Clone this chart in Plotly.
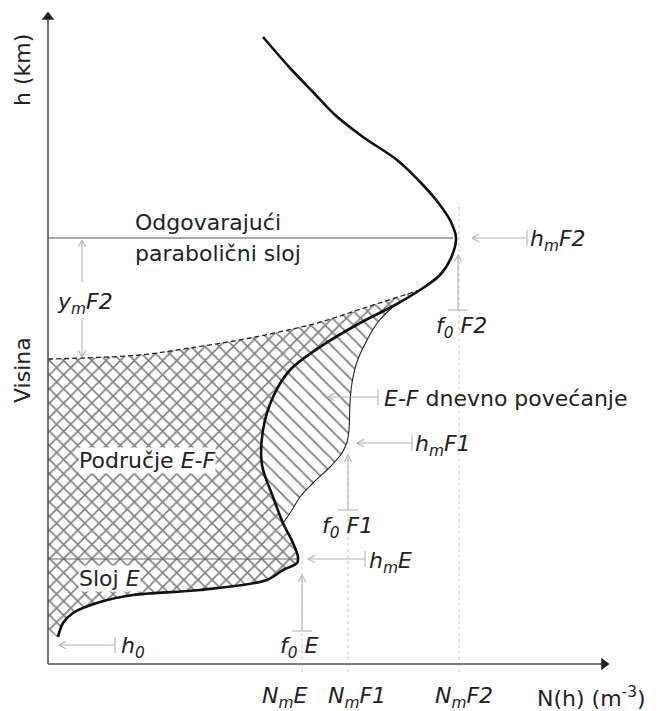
import math
import plotly.graph_objects as go

# ---------------- data (diagram units: N measured from the h-axis, h from the N-axis) -------------
# main electron density profile N(h)
profile_N = [215, 242, 265, 286, 315, 349, 375, 392, 403, 408, 403, 392, 372, 347, 312, 272, 242,
             225, 215, 214, 225, 235, 245, 250, 249, 235, 219, 152, 85, 52, 25, 15, 10]
profile_h = [627, 596, 572, 550, 527, 504, 479, 459, 442, 426, 406, 389, 374, 359, 341, 317, 294,
             267, 234, 199, 167, 141, 121, 107, 101, 94, 84, 74, 69, 62, 51, 41, 27]
MEET = 12   # index where the dashed parabolic edge meets the profile
F1_TOP, F1_BOT = 13, 21

# dashed "equivalent parabolic layer" lower edge
parab_N = [0, 35, 92, 142, 202, 269, 319, 372]
parab_h = [305, 306, 309, 316, 326, 341, 357, 374]

# daytime E-F enhancement boundary (F1 ledge)
f1_N = [347, 330, 318, 309, 304, 302, 301, 299, 294, 282, 265, 252, 244, 235]
f1_h = [359, 342, 322, 302, 281, 261, 234, 222, 211, 197, 181, 167, 154, 141]

# characteristic values
NmE, NmF1, NmF2 = 254, 300, 411
hmE, hmF1, hmF2 = 105, 221, 426
h0 = 19
N_axis_end, h_axis_end = 561, 652

bottom_labels = ["<i>N<sub>m</sub>E</i>", "<i>N<sub>m</sub>F1</i>", "<i>N<sub>m</sub>F2</i>",
                 "N(h) (m<sup>-3</sup>)"]
bottom_label_N = [236, 309, 416, 543]

FONT = "DejaVu Sans"
FS = 22
TXT = "#222222"
GREY = "#b4b4b4"

fig = go.Figure()

# ---------------- hatched regions ----------------
cross_N = parab_N + profile_N[MEET + 1:] + [0]
cross_h = parab_h + profile_h[MEET + 1:] + [35]
fig.add_trace(go.Scatter(
    x=cross_N, y=cross_h, mode="lines", fill="toself", line=dict(width=0, shape="spline", smoothing=0.5),
    fillcolor="rgba(0,0,0,0)",
    fillpattern=dict(shape="x", size=10, solidity=0.3, fgcolor="#000000", bgcolor="white"),
    hoverinfo="skip"))

hat_N = f1_N + profile_N[F1_BOT:F1_TOP - 1:-1]
hat_h = f1_h + profile_h[F1_BOT:F1_TOP - 1:-1]
fig.add_trace(go.Scatter(
    x=hat_N, y=hat_h, mode="lines", fill="toself", line=dict(width=0, shape="spline", smoothing=0.5),
    fillcolor="rgba(0,0,0,0)",
    fillpattern=dict(shape="\\", size=10, solidity=0.18, fgcolor="#000000", bgcolor="white"),
    hoverinfo="skip"))

# ---------------- reference lines ----------------
fig.add_trace(go.Scatter(x=[0, profile_N[9] - 3], y=[hmF2, hmF2], mode="lines",
                         line=dict(color="#555555", width=1.2), hoverinfo="skip"))
fig.add_trace(go.Scatter(x=[0, profile_N[23]], y=[hmE, hmE], mode="lines",
                         line=dict(color="#666666", width=1.2), hoverinfo="skip"))
for nv, top in [(NmE, hmE + 8), (NmF1, hmF1 + 4), (NmF2, hmF2 + 35)]:
    fig.add_trace(go.Scatter(x=[nv, nv], y=[-8, top], mode="lines",
                             line=dict(color="#c8c8c8", width=1, dash="dot"), hoverinfo="skip"))

# boundary lines
fig.add_trace(go.Scatter(x=parab_N, y=parab_h, mode="lines",
                         line=dict(color="#222222", width=1.3, dash="5px,3px", shape="spline"),
                         hoverinfo="skip"))
fig.add_trace(go.Scatter(x=f1_N, y=f1_h, mode="lines",
                         line=dict(color="#222222", width=1.1, shape="spline"), hoverinfo="skip"))
fig.add_trace(go.Scatter(x=profile_N, y=profile_h, mode="lines",
                         line=dict(color="#111111", width=2.6, shape="spline", smoothing=0.9),
                         hoverinfo="skip"))


# ---------------- grey marker arrows ----------------
def arrow(tip, tail, bar=0, arm=8, ang=28):
    xs, ys = [tail[0], tip[0], None], [tail[1], tip[1], None]
    dx, dy = tip[0] - tail[0], tip[1] - tail[1]
    L = math.hypot(dx, dy)
    ux, uy = dx / L, dy / L
    for s in (1, -1):
        a = math.radians(ang) * s
        rx = ux * math.cos(a) - uy * math.sin(a)
        ry = ux * math.sin(a) + uy * math.cos(a)
        xs += [tip[0], tip[0] - arm * rx, None]
        ys += [tip[1], tip[1] - arm * ry, None]
    if bar:
        px, py = -uy, ux
        xs += [tail[0] - px * bar / 2, tail[0] + px * bar / 2, None]
        ys += [tail[1] - py * bar / 2, tail[1] + py * bar / 2, None]
    return xs, ys


arrows = [
    ((11, h0), (67, h0), 16),            # h0
    ((260, hmE), (317, hmE), 16),        # hmE
    ((NmE, 89), (NmE, 33), 20),          # f0E
    ((309, hmF1), (364, hmF1), 16),      # hmF1
    ((NmF1, 209), (NmF1, 154), 20),      # f0F1
    ((280, 267), (330, 267), 16),        # E-F
    ((424, hmF2), (479, hmF2), 16),      # hmF2
    ((NmF2 - 1, 409), (NmF2 - 1, 354), 20),  # f0F2
    ((34, hmF2 - 2), (34, 382), 0),      # ymF2 up
    ((34, 307), (34, 346), 0),           # ymF2 down
]
ax_, ay_ = [], []
for tip, tail, bar in arrows:
    xs, ys = arrow(tip, tail, bar)
    ax_ += xs
    ay_ += ys
fig.add_trace(go.Scatter(x=ax_, y=ay_, mode="lines", line=dict(color=GREY, width=1.1),
                         hoverinfo="skip"))

# ---------------- axes with arrow heads ----------------
fig.add_trace(go.Scatter(x=[0, 0, None, 0, N_axis_end - 6], y=[h_axis_end - 6, 0, None, 0, 0],
                         mode="lines", line=dict(color="#555555", width=1.6), hoverinfo="skip"))
fig.add_trace(go.Scatter(x=[0], y=[h_axis_end - 5], mode="markers",
                         marker=dict(symbol="triangle-up", size=11, color="#222222"), hoverinfo="skip"))
fig.add_trace(go.Scatter(x=[N_axis_end - 5], y=[0], mode="markers",
                         marker=dict(symbol="triangle-right", size=11, color="#222222"), hoverinfo="skip"))


# ---------------- text ----------------
def label(x, y, text, xa="left", bg=None, angle=0, size=FS):
    fig.add_annotation(x=x, y=y, xref="x", yref="y", text=text, showarrow=False, xanchor=xa,
                       yanchor="middle", textangle=angle,
                       font=dict(family=FONT, size=size, color=TXT),
                       bgcolor=bg, borderpad=0)


label(-26, 594, "h (km)", xa="center", angle=-90)
label(-26, 294, "Visina", xa="center", angle=-90)
label(86, 442, "Odgovarajući")
label(86, 411, "parabolični sloj")
label(8, 361, "<i>y<sub>m</sub>F2</i>")
label(481, 424, "<i>h<sub>m</sub>F2</i>")
label(413, 337, "<i>f<sub>0</sub> F2</i>", xa="center")
label(335, 266, "<i>E-F</i> dnevno povećanje")
label(366, 219, "<i>h<sub>m</sub>F1</i>")
label(299, 137, "<i>f<sub>0</sub> F1</i>", xa="center")
label(320, 102, "<i>h<sub>m</sub>E</i>")
label(251, 17, "<i>f<sub>0</sub> E</i>", xa="center")
label(72, 17, "<i>h<sub>0</sub></i>")
label(30, 204, "Područje <i>E-F</i>", bg="white")
label(30, 86, "Sloj <i>E</i>", bg="white")
for t, n in zip(bottom_labels, bottom_label_N):
    label(n, -33, t, xa="center")

fig.update_layout(
    width=659, height=711, margin=dict(l=0, r=0, t=0, b=0),
    paper_bgcolor="white", plot_bgcolor="white", showlegend=False,
    xaxis=dict(range=[-48, 611], visible=False, fixedrange=True),
    yaxis=dict(range=[-47, 664], visible=False, fixedrange=True),
)
fig.write_html("out.html", config={"displayModeBar": False},
               post_script="document.body.style.margin='0';")
